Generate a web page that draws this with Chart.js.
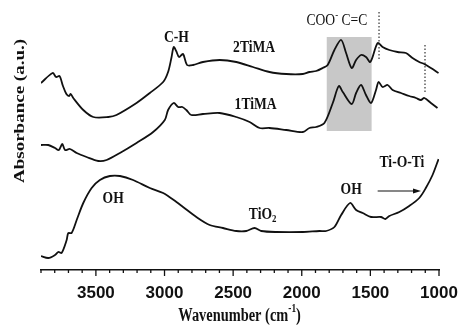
<!DOCTYPE html>
<html>
<head>
<meta charset="utf-8">
<script src="https://cdn.jsdelivr.net/npm/chart.js@4.4.0/dist/chart.umd.min.js"></script>
<style>
html,body{margin:0;padding:0;background:#fff;}
#wrap{width:458px;height:329px;}
</style>
</head>
<body>
<div id="wrap"><canvas id="ftir"></canvas></div>
<script>
// tick labels on the wavenumber axis
const xTicks=[3500,3000,2500,2000,1500,1000];

// 2TiMA spectrum (wavenumber, absorbance offset)
const wave2TiMA=[3900,3815,3790,3765,3740,3715,3695,3684,3665,3592,3519,3410,3350,3204,3107,3010,2974,2950,2933,2915,2894,2865,2836,2792,2720,2598,2477,2356,2235,2113,1992,1944,1895,1847,1811,1762,1713,1677,1636,1604,1568,1532,1500,1447,1411,1362,1302,1241,1193,1144,1107,1059,1003];
const abs2TiMA=[187,197,193,194,184,176,174,176,172,160,153,153,155,167,177,188,198,212,223,219,213,216,205,205,208,210,208,203,198,196,196,198,199,202,205,220,230,217,202,210,215,213,208,227,223,220,218,217,212,208,206,202,197];

// 1TiMA spectrum
const wave1TiMA=[3900,3847,3798,3770,3745,3725,3689,3640,3568,3483,3422,3325,3204,3083,2998,2974,2933,2901,2870,2841,2805,2720,2598,2477,2380,2307,2235,2113,1992,1944,1895,1835,1774,1730,1701,1636,1604,1568,1532,1495,1459,1440,1411,1374,1338,1277,1217,1168,1132,1107,1059,1011];
const abs1TiMA=[125,125,122,120,126,120,121,117,113,109,110,117,127,138,150,160,167,163,163,160,155,156,157,153,148,142,142,140,138,142,143,147,167,184,178,166,177,185,175,167,180,188,183,185,180,177,174,172,170,172,167,162];

// TiO2 spectrum
const waveTiO2=[3900,3847,3798,3774,3750,3713,3701,3677,3640,3592,3531,3471,3398,3325,3229,3107,3010,2913,2865,2768,2671,2574,2477,2404,2344,2295,2186,1992,1871,1822,1762,1713,1648,1604,1556,1495,1423,1391,1362,1289,1217,1144,1096,1047,1003];
const absTiO2=[14,12,15,18,17,30,37,37,50,67,82,90,94,94,90,82,77,68,63,53,45,42,39,39,42,39,38,38,39,39,43,55,67,60,57,53,53,51,54,58,64,72,82,95,111];

const pairs=(w,a)=>w.map((x,i)=>({x:x,y:a[i]}));

// labels drawn over the plot
const notes=[
  {parts:[{t:'C-H'}],w:2913,v:232,bold:true},
  {parts:[{t:'2TiMA'}],w:2347,v:222,bold:true},
  {parts:[{t:'1TiMA'}],w:2336,v:165,bold:true},
  {parts:[{t:'COO'},{t:'-',sup:1},{t:' C=C'}],w:1744,v:249,bold:false},
  {parts:[{t:'OH'}],w:3374,v:71,bold:true},
  {parts:[{t:'TiO'},{t:'2',sub:1}],w:2285,v:55,bold:true},
  {parts:[{t:'OH'}],w:1640,v:80,bold:true},
  {parts:[{t:'Ti-O-Ti'}],w:1270,v:107,bold:true}
];
const box={w1:1818,w2:1491,v1:139,v2:233};
const dotted=[{w:1437,v1:211,v2:258},{w:1102,v1:177,v2:225}];
const arrow={w1:1447,w2:1131,v:79};

const SERIF='"Liberation Serif","Times New Roman",serif';

function rich(ctx,parts,cx,cy,size,bold,sx){
  const wt=bold?'bold ':'';
  let total=0;
  parts.forEach(p=>{
    const s=(p.sup||p.sub)?size*0.65:size;
    ctx.font=wt+s+'px '+SERIF;
    p.wd=ctx.measureText(p.t).width; p.s=s; total+=p.wd;
  });
  ctx.save();
  ctx.translate(cx,cy);
  ctx.scale(sx,1);
  ctx.textBaseline='middle';
  ctx.textAlign='left';
  ctx.fillStyle='#111';
  let x=-total/2;
  parts.forEach(p=>{
    ctx.font=wt+p.s+'px '+SERIF;
    let dy=0;
    if(p.sup) dy=-size*0.38;
    if(p.sub) dy=size*0.3;
    ctx.fillText(p.t,x,dy);
    x+=p.wd;
  });
  ctx.restore();
}

const decor={
  id:'decor',
  beforeDatasetsDraw(chart){
    const {ctx,scales:{x,y}}=chart;
    ctx.save();
    ctx.fillStyle='#c8c8c8';
    const l=x.getPixelForValue(box.w1), r=x.getPixelForValue(box.w2);
    const t=y.getPixelForValue(box.v2), b=y.getPixelForValue(box.v1);
    ctx.fillRect(l,t,r-l,b-t);
    ctx.restore();
  },
  afterDatasetsDraw(chart){
    const {ctx,chartArea,scales:{x,y}}=chart;
    ctx.save();
    // dotted markers
    ctx.strokeStyle='#333'; ctx.lineWidth=1.2; ctx.setLineDash([1.5,2]);
    dotted.forEach(d=>{
      const px=x.getPixelForValue(d.w);
      ctx.beginPath();
      ctx.moveTo(px,y.getPixelForValue(d.v2));
      ctx.lineTo(px,y.getPixelForValue(d.v1));
      ctx.stroke();
    });
    ctx.setLineDash([]);
    // arrow
    const ax1=x.getPixelForValue(arrow.w1), ax2=x.getPixelForValue(arrow.w2), ay=y.getPixelForValue(arrow.v);
    ctx.strokeStyle='#111'; ctx.lineWidth=1.2;
    ctx.beginPath(); ctx.moveTo(ax1,ay); ctx.lineTo(ax2-5,ay); ctx.stroke();
    ctx.fillStyle='#111';
    ctx.beginPath(); ctx.moveTo(ax2,ay); ctx.lineTo(ax2-8,ay-2.5); ctx.lineTo(ax2-8,ay+2.5); ctx.closePath(); ctx.fill();
    // tick marks, minor every 100
    ctx.strokeStyle='#111'; ctx.lineWidth=1.3;
    for(let w=1000;w<=3900;w+=100){
      const px=x.getPixelForValue(w);
      ctx.beginPath();
      ctx.moveTo(px,chartArea.bottom);
      ctx.lineTo(px,chartArea.bottom+(w%500===0?6:3));
      ctx.stroke();
    }
    ctx.restore();
    notes.forEach(n=>rich(ctx,n.parts,x.getPixelForValue(n.w),y.getPixelForValue(n.v),16,n.bold,0.85));
    // axis titles
    rich(ctx,[{t:'Wavenumber (cm'},{t:'-1',sup:1},{t:')'}],x.getPixelForValue(2453),chartArea.bottom+46,18,true,0.8);
    ctx.save();
    ctx.translate(chartArea.left-21,y.getPixelForValue(159));
    ctx.rotate(-Math.PI/2);
    ctx.font='bold 19px '+SERIF;
    ctx.textAlign='center'; ctx.textBaseline='middle'; ctx.fillStyle='#111';
    ctx.save(); ctx.scale(1,0.82); ctx.fillText('Absorbance (a.u.)',0,0); ctx.restore();
    ctx.restore();
  }
};

const lineStyle={borderColor:'#111',borderWidth:1.8,pointRadius:0,tension:0.3,fill:false};

new Chart(document.getElementById('ftir'),{
  type:'line',
  data:{
    datasets:[
      Object.assign({label:'2TiMA',data:pairs(wave2TiMA,abs2TiMA)},lineStyle),
      Object.assign({label:'1TiMA',data:pairs(wave1TiMA,abs1TiMA)},lineStyle),
      Object.assign({label:'TiO2',data:pairs(waveTiO2,absTiO2)},lineStyle)
    ]
  },
  options:{
    responsive:true,
    maintainAspectRatio:false,
    animation:false,
    layout:{padding:{left:41,right:19,top:0,bottom:0}},
    plugins:{legend:{display:false},tooltip:{enabled:false}},
    scales:{
      x:{
        type:'linear',
        reverse:true,
        min:1000,max:3900,
        grid:{display:false},
        border:{display:true,color:'#111',width:1.5},
        afterBuildTicks:s=>{s.ticks=xTicks.map(v=>({value:v}));},
        afterFit:s=>{s.height=59;s.paddingLeft=0;s.paddingRight=0;},
        ticks:{
          padding:5,
          color:'#111',
          maxRotation:0,
          callback:v=>String(v),
          font:{family:'"Liberation Sans Narrow","Liberation Sans",Arial,sans-serif',weight:'bold',size:17}
        }
      },
      y:{display:false,min:0,max:270}
    }
  },
  plugins:[decor]
});
</script>
</body>
</html>
